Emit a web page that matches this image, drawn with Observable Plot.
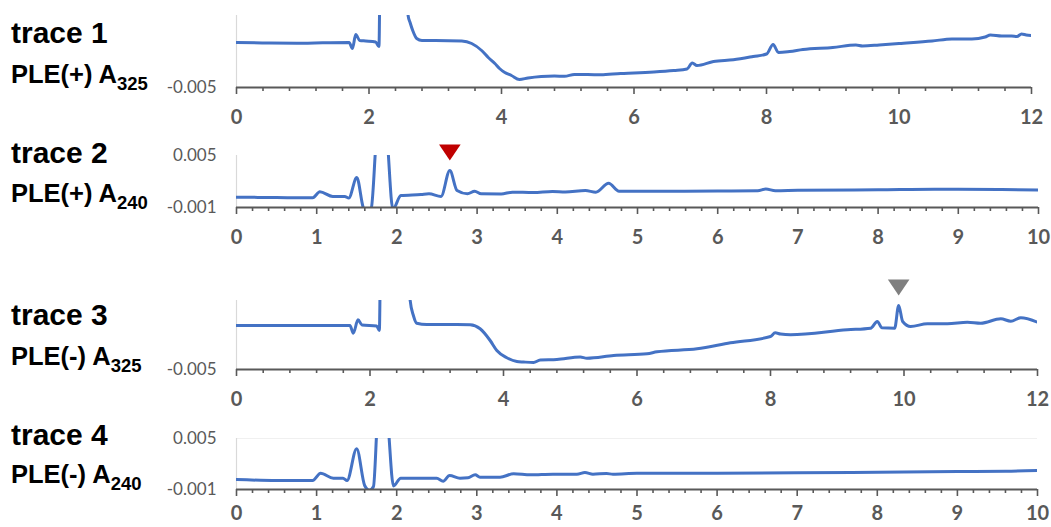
<!DOCTYPE html>
<html><head><meta charset="utf-8">
<script src="https://cdn.jsdelivr.net/npm/d3@7"></script>
<script src="https://cdn.jsdelivr.net/npm/@observablehq/plot@0.6"></script>
<style>
body{margin:0;background:#fff;}
#chart{position:relative;width:1051px;height:527px;overflow:hidden;background:#fff;}
#chart > svg{position:absolute;left:0;}
</style></head><body><div id="chart"></div>
<script>
// ---------- data ----------
const traceNames = ["trace 1", "trace 2", "trace 3", "trace 4"];
const sampleNames = ["PLE(+) A", "PLE(+) A", "PLE(-) A", "PLE(-) A"];
const wavelengths = ["325", "240", "325", "240"];

const t1x = [0,0.5,1.0,1.3,1.7,1.75,1.8,1.86,1.95,2.1,2.15,2.19,2.56,2.59,2.62,2.66,2.72,2.8,3.0,3.4,3.55,3.7,3.8,3.9,3.97,4.05,4.15,4.27,4.4,4.6,4.8,4.95,5.1,5.3,5.5,5.8,6.0,6.3,6.6,6.8,6.88,6.95,7.2,7.5,7.8,8.0,8.1,8.18,8.35,8.55,9.0,9.35,9.45,9.7,10.0,10.5,10.8,11.1,11.3,11.38,11.55,11.7,11.78,11.85,11.92,12.0];
const t1y = [-0.00275,-0.002775,-0.00279,-0.002765,-0.00275,-0.00305,-0.00235,-0.00265,-0.002675,-0.002725,-0.00295,0.01,0.01,-0.0014,-0.00175,-0.00215,-0.00255,-0.00265,-0.00265,-0.002675,-0.0028,-0.00315,-0.0035,-0.0038,-0.00405,-0.00425,-0.0044,-0.0046,-0.004525,-0.00445,-0.004425,-0.00444,-0.00435,-0.00435,-0.004365,-0.0043,-0.004275,-0.004225,-0.00415,-0.004075,-0.003775,-0.0039,-0.0037,-0.003615,-0.00345,-0.003325,-0.00285,-0.00325,-0.0032,-0.0031,-0.003,-0.002875,-0.002925,-0.002875,-0.0028,-0.002675,-0.002575,-0.002575,-0.002475,-0.002375,-0.002425,-0.002425,-0.00245,-0.002325,-0.002375,-0.0024];

const t2x = [0,0.5,0.95,1.04,1.2,1.35,1.4,1.5,1.58,1.63,1.68,1.76,1.86,1.95,2.05,2.3,2.4,2.55,2.66,2.75,2.88,2.97,3.05,3.3,3.44,3.7,3.94,4.1,4.35,4.48,4.64,4.77,5.0,6.0,6.5,6.6,6.72,7.0,8.0,8.7,9.5,10];
const t2y = [0.00019,0.00015,0.00012,0.00081,0.00027,0.00027,0.0001,0.00246,-0.001,-0.0016,-0.0011,0.008,0.008,-0.0012,0.00038,0.0005,0.00058,0.00027,0.00327,0.00096,0.00058,0.00088,0.00058,0.00056,0.00077,0.00073,0.00085,0.00079,0.00096,0.00077,0.0018,0.00088,0.00087,0.00089,0.00093,0.00113,0.00094,0.00099,0.00104,0.00111,0.00108,0.00102];

const t3x = [0,0.5,1.0,1.7,1.75,1.82,1.88,2.1,2.14,2.18,2.56,2.6,2.65,2.7,2.85,3.3,3.5,3.65,3.8,3.9,4.05,4.2,4.3,4.45,4.55,4.8,5.15,5.25,5.65,6.15,6.3,6.9,7.4,8.0,8.07,8.15,8.3,9.15,9.5,9.6,9.67,9.86,9.92,9.98,10.1,10.35,10.65,10.95,11.15,11.45,11.6,11.75,12];
const t3y = [-0.0028,-0.0028,-0.0028,-0.0028,-0.003185,-0.002515,-0.002775,-0.002825,-0.00305,0.01,0.01,-0.0015,-0.0023,-0.002685,-0.00275,-0.00275,-0.002765,-0.002965,-0.00355,-0.00405,-0.004415,-0.0046,-0.004625,-0.00465,-0.004525,-0.0045,-0.004375,-0.004435,-0.0043,-0.004215,-0.004115,-0.003965,-0.003665,-0.00335,-0.003165,-0.003225,-0.003265,-0.003015,-0.002935,-0.0026,-0.002915,-0.002935,-0.0018,-0.0026,-0.00285,-0.002715,-0.002715,-0.002635,-0.002685,-0.002465,-0.002585,-0.002415,-0.002635];

const t4x = [0,0.5,0.95,1.05,1.21,1.33,1.38,1.5,1.6,1.66,1.71,1.77,1.87,1.96,2.05,2.5,2.58,2.66,2.79,2.89,2.98,3.04,3.29,3.46,3.67,3.95,4.25,4.35,4.45,4.62,4.7,5.0,6.0,7.0,8.0,9.0,9.6,10];
const t4y = [0.00018,0.00006,0.00006,0.00092,0.00033,0.00033,0.00006,0.00379,-0.00053,-0.0011,-0.00065,0.008,0.008,-0.00058,0.00033,0.00033,-0.00002,0.00065,0.00033,0.00038,0.00073,0.00045,0.00045,0.00085,0.00073,0.0008,0.0008,0.001,0.0008,0.00088,0.0008,0.00091,0.00092,0.00096,0.00104,0.00112,0.00115,0.00123];

const yTicksA325 = [-0.005];
const yTicksA240 = [-0.001, 0.005];

const marker2 = [{x: 2.66, y: 0.00327, color: "#c00000"}];
const marker3 = [{x: 9.92, y: -0.0018, color: "#7f7f7f"}];

// ---------- drawing ----------
const blue = "#4472c4";
const axisGray = "#595959";

const downTriangle = {
  draw(ctx, size) {
    const s = Math.sqrt(size / Math.PI);
    ctx.moveTo(-1.35 * s, -s);
    ctx.lineTo(1.35 * s, -s);
    ctx.lineTo(0, s);
    ctx.closePath();
  }
};

function panel({xs, ys, xMax, yDomain, yTicks, majorStep, minorStep, top, marginTop, innerH, marginRight, markers, grid, labelPad = 15, marginBottom = 42}) {
  const data = xs.map((x, i) => ({x, y: ys[i]}));
  const eps = 1e-9;
  const majors = d3.range(0, xMax + eps, majorStep).map(v => +v.toFixed(4));
  const minors = d3.range(0, xMax + eps, minorStep).map(v => +v.toFixed(4))
    .filter(v => Math.abs(v / majorStep - Math.round(v / majorStep)) > 1e-6);
  const svg = Plot.plot({
    width: 1051,
    height: marginTop + innerH + marginBottom,
    marginTop, marginBottom, marginLeft: 236, marginRight,
    x: {domain: [0, xMax]},
    y: {domain: yDomain},
    color: {type: "identity"},
    style: {fontFamily: "Lato, 'Open Sans', sans-serif", background: "transparent", overflow: "visible"},
    marks: [
      grid ? Plot.ruleY([yDomain[1]], {stroke: "#f0f0f0", strokeWidth: 1}) : null,
      Plot.ruleX([0], {stroke: "#d9d9d9", strokeWidth: 1.2}),
      Plot.axisY({ticks: yTicks, tickSize: 0, tickPadding: 20, tickFormat: d => d.toFixed(3), fontSize: 17, fill: axisGray, label: null}),
      Plot.line(data, {x: "x", y: "y", stroke: blue, strokeWidth: 3, curve: "monotone-x", clip: true}),
      Plot.ruleY([yDomain[0]], {stroke: axisGray, strokeWidth: 2}),
      Plot.axisX({ticks: minors, tickSize: 4, tickFormat: () => "", stroke: axisGray, strokeWidth: 1.6, label: null}),
      Plot.axisX({ticks: majors, tickSize: 7, tickPadding: labelPad, tickFormat: d => String(d), fontSize: 20, fontWeight: "bold", fill: axisGray, stroke: axisGray, strokeWidth: 1.6, label: null}),
      markers ? Plot.dot(markers, {x: "x", y: "y", fill: "color", stroke: null, symbol: downTriangle, r: 8, dy: -18}) : null
    ]
  });
  svg.style.top = top + "px";
  return svg;
}

const chart = document.getElementById("chart");
chart.appendChild(panel({xs: t1x, ys: t1y, xMax: 12, yDomain: [-0.005, -0.0014], yTicks: yTicksA325, majorStep: 2, minorStep: 0.4, top: 0, marginTop: 15, innerH: 72, marginRight: 20}));
chart.appendChild(panel({xs: t2x, ys: t2y, xMax: 10, yDomain: [-0.001, 0.005], yTicks: yTicksA240, majorStep: 1, minorStep: 0.2, top: 130, marginTop: 25, innerH: 52, marginRight: 13, markers: marker2}));
chart.appendChild(panel({xs: t3x, ys: t3y, xMax: 12, yDomain: [-0.005, -0.00155], yTicks: yTicksA325, majorStep: 2, minorStep: 0.4, top: 275, marginTop: 25, innerH: 69, marginRight: 14, markers: marker3}));
chart.appendChild(panel({xs: t4x, ys: t4y, xMax: 10, yDomain: [-0.001, 0.005], yTicks: yTicksA240, majorStep: 1, minorStep: 0.2, top: 410, marginTop: 28, innerH: 51, marginRight: 14, grid: true, labelPad: 9, marginBottom: 38}));

// left-hand labels
const labelSvg = d3.create("svg").attr("width", 1051).attr("height", 527)
  .style("top", "0px").style("pointer-events", "none")
  .style("font-family", "'Liberation Sans', Arial, sans-serif").style("font-weight", "bold");
const traceBase = [43, 163, 325, 445];
const sampleBase = [83, 202, 365, 483];
traceNames.forEach((name, i) => {
  labelSvg.append("text").attr("x", 11).attr("y", traceBase[i]).attr("font-size", 30).attr("fill", "#000").text(name);
  const t = labelSvg.append("text").attr("x", 11).attr("y", sampleBase[i]).attr("font-size", 25.5).attr("fill", "#000");
  t.append("tspan").text(sampleNames[i]);
  t.append("tspan").attr("dy", 7).attr("font-size", 18.5).text(wavelengths[i]);
});
chart.appendChild(labelSvg.node());
</script></body></html>
